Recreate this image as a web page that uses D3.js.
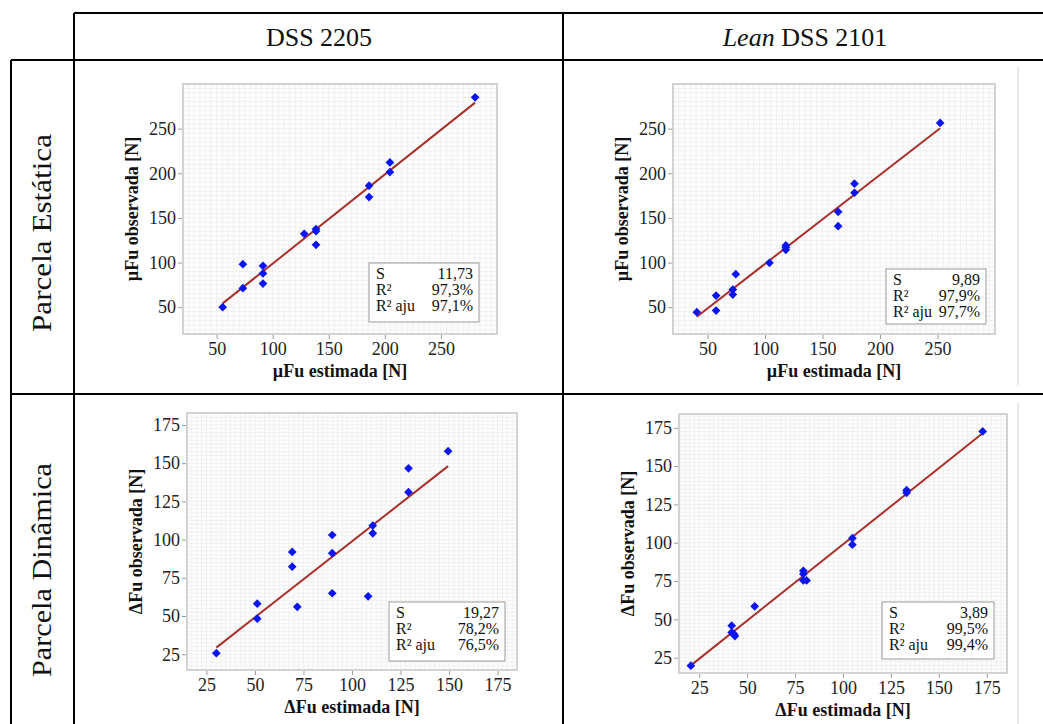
<!DOCTYPE html>
<html>
<head>
<meta charset="utf-8">
<script src="https://cdn.jsdelivr.net/npm/d3@7"></script>
<style>
  body { margin: 0; background: #fff; }
</style>
</head>
<body>
<div id="table"></div>
<script>
// column headers and row labels of the table
const colTitles = ["DSS 2205", "DSS 2101"];
const rowTitles = ["Parcela Estática", "Parcela Dinâmica"];

// tick values
const ticksStatic = [50, 100, 150, 200, 250];
const ticksDynamic = [25, 50, 75, 100, 125, 150, 175];

// DSS 2205 - parcela estatica
const est2205Static = [55.4, 73.4, 73.4, 91.3, 91.3, 91.3, 128.1, 138.6, 138.6, 138.6, 185.9, 185.9, 204.5, 204.5, 280.5];
const obs2205Static = [50.0, 98.2, 71.3, 96.4, 87.8, 76.5, 132.2, 137.5, 135.2, 119.9, 186.1, 173.4, 212.2, 201.4, 285.1];
// Lean DSS 2101 - parcela estatica
const est2101Static = [40.7, 57.5, 57.5, 72.0, 72.0, 74.6, 103.9, 118.1, 118.1, 118.1, 163.6, 163.6, 177.8, 177.8, 252.3];
const obs2101Static = [44.4, 63.1, 46.3, 69.8, 64.2, 87.0, 99.7, 119.2, 116.8, 114.3, 156.9, 140.8, 188.3, 178.2, 256.4];
// DSS 2205 - parcela dinamica
const est2205Dyn = [30.1, 51.2, 51.2, 69.2, 69.2, 71.8, 89.8, 89.8, 89.8, 108.3, 110.7, 110.7, 129.1, 129.1, 149.5];
const obs2205Dyn = [25.7, 58.1, 48.3, 91.9, 82.3, 56.0, 103.0, 91.1, 64.9, 62.9, 109.2, 104.1, 146.6, 131.0, 157.8];
// Lean DSS 2101 - parcela dinamica
const est2101Dyn = [20.6, 41.9, 41.9, 43.1, 43.6, 53.9, 79.3, 79.3, 79.3, 81.0, 104.9, 104.9, 133.2, 133.2, 172.9];
const obs2101Dyn = [19.8, 45.9, 41.5, 40.4, 39.1, 58.5, 81.7, 79.6, 75.4, 75.4, 103.0, 98.7, 134.3, 132.6, 172.6];

// summary boxes
const statNames = ["S", "R²", "R² aju"];
const stats2205Static = ["11,73", "97,3%", "97,1%"];
const stats2101Static = ["9,89", "97,9%", "97,7%"];
const stats2205Dyn = ["19,27", "78,2%", "76,5%"];
const stats2101Dyn = ["3,89", "99,5%", "99,4%"];

const svgWidth = 1043;
const svgHeight = 724;
const serif = "'Liberation Serif', 'Times New Roman', Times, serif";

let svg = d3.select("#table")
  .append("svg")
  .attr("width", svgWidth)
  .attr("height", svgHeight)
  .attr("font-family", serif)
  .style("background-color", "#fff");

// panel layout (frame in px, domains, stats box)
var panels = [
  {frame: [183, 84, 497, 334], xd: [20, 300], yd: [20, 300], ticks: ticksStatic, grid: 5,
   sym: "µ", est: est2205Static, obs: obs2205Static, stats: stats2205Static, box: [369, 263, 110, 59]},
  {frame: [673, 84, 995, 334], xd: [20, 300], yd: [20, 300], ticks: ticksStatic, grid: 5,
   sym: "µ", est: est2101Static, obs: obs2101Static, stats: stats2101Static, box: [886, 269, 100, 55]},
  {frame: [187, 413, 517, 670], xd: [15, 185], yd: [14.7, 182.8], ticks: ticksDynamic, grid: 2.5,
   sym: "Δ", est: est2205Dyn, obs: obs2205Dyn, stats: stats2205Dyn, box: [389, 602, 116, 59]},
  {frame: [679, 414, 1007, 673], xd: [14.4, 185.6], yd: [15, 184], ticks: ticksDynamic, grid: 2.5,
   sym: "Δ", est: est2101Dyn, obs: obs2101Dyn, stats: stats2101Dyn, box: [882, 602, 112, 57]}
];

// small helper so every label gets the serif face
function label(sel, size) {
  return sel.append("text").style("font-family", serif).style("font-size", size + "px").attr("fill", "#111");
}

// ---- table lines
var tbl = svg.append("g").attr("stroke", "#000").attr("stroke-width", 2);
tbl.append("line").attr("x1", 74).attr("x2", svgWidth).attr("y1", 13).attr("y2", 13);
tbl.append("line").attr("x1", 11).attr("x2", svgWidth).attr("y1", 60).attr("y2", 60);
tbl.append("line").attr("x1", 11).attr("x2", svgWidth).attr("y1", 394).attr("y2", 394);
tbl.append("line").attr("x1", 11).attr("x2", 11).attr("y1", 60).attr("y2", svgHeight);
tbl.append("line").attr("x1", 74).attr("x2", 74).attr("y1", 13).attr("y2", svgHeight);
tbl.append("line").attr("x1", 563).attr("x2", 563).attr("y1", 13).attr("y2", svgHeight);

// edges of the pasted screenshots
svg.append("line").attr("x1", 1018).attr("x2", 1018).attr("y1", 67).attr("y2", 385)
  .attr("stroke", "#d4d4d4").attr("stroke-width", 1);
svg.append("line").attr("x1", 1018).attr("x2", 1018).attr("y1", 403).attr("y2", svgHeight)
  .attr("stroke", "#d4d4d4").attr("stroke-width", 1);

// headers
label(svg, 26).attr("x", 319).attr("y", 46).attr("text-anchor", "middle").text(colTitles[0]);
var h2 = label(svg, 26).attr("x", 805).attr("y", 46).attr("text-anchor", "middle");
h2.append("tspan").style("font-style", "italic").text("Lean");
h2.append("tspan").text(" " + colTitles[1]);

// row labels (rotated)
label(svg, 27).attr("transform", "translate(51,233) rotate(-90)").attr("text-anchor", "middle")
  .attr("textLength", 198).attr("lengthAdjust", "spacingAndGlyphs").text(rowTitles[0]);
label(svg, 27).attr("transform", "translate(51,570) rotate(-90)").attr("text-anchor", "middle")
  .attr("textLength", 214).attr("lengthAdjust", "spacingAndGlyphs").text(rowTitles[1]);

// ---- scatter panels
panels.forEach(function(p) {
  var x0 = p.frame[0], y0 = p.frame[1], x1 = p.frame[2], y1 = p.frame[3];
  var xScale = d3.scaleLinear().domain(p.xd).range([x0, x1]);
  var yScale = d3.scaleLinear().domain(p.yd).range([y1, y0]);
  var g = svg.append("g");

  // background and fine grid
  g.append("rect").attr("x", x0).attr("y", y0).attr("width", x1 - x0).attr("height", y1 - y0)
    .attr("fill", "#fdfdfd");
  var gx = d3.range(Math.ceil(p.xd[0] / p.grid) * p.grid, p.xd[1], p.grid);
  var gy = d3.range(Math.ceil(p.yd[0] / p.grid) * p.grid, p.yd[1], p.grid);
  g.selectAll(".gx").data(gx).enter().append("line")
    .attr("x1", d => xScale(d)).attr("x2", d => xScale(d)).attr("y1", y0).attr("y2", y1)
    .attr("stroke", "#f0f0f0").attr("stroke-width", 1);
  g.selectAll(".gy").data(gy).enter().append("line")
    .attr("y1", d => yScale(d)).attr("y2", d => yScale(d)).attr("x1", x0).attr("x2", x1)
    .attr("stroke", "#f0f0f0").attr("stroke-width", 1);

  // frame
  g.append("rect").attr("x", x0).attr("y", y0).attr("width", x1 - x0).attr("height", y1 - y0)
    .attr("fill", "none").attr("stroke", "#d2d2d2").attr("stroke-width", 2);

  // axes
  var yAxis = g.append("g").attr("transform", "translate(" + (x0 - 1) + ",0)")
    .call(d3.axisLeft(yScale).tickValues(p.ticks).tickSize(4).tickPadding(2));
  var xAxis = g.append("g").attr("transform", "translate(0," + (y1 + 1) + ")")
    .call(d3.axisBottom(xScale).tickValues(p.ticks).tickSize(4).tickPadding(3));
  [xAxis, yAxis].forEach(function(a) {
    a.attr("font-family", serif).attr("font-size", 18);
    a.select(".domain").remove();
    a.selectAll(".tick line").attr("stroke", "#9a9a9a");
    a.selectAll(".tick text").attr("fill", "#222")
      .style("font-family", serif).style("font-size", "18px");
  });

  // axis titles
  label(g, 18).attr("x", (x0 + x1) / 2).attr("y", y1 + 43).attr("text-anchor", "middle")
    .style("font-weight", "bold").text(p.sym + "Fu estimada [N]");
  label(g, 18).attr("transform", "translate(" + (x0 - 45) + "," + ((y0 + y1) / 2) + ") rotate(-90)")
    .attr("text-anchor", "middle").style("font-weight", "bold")
    .text(p.sym + "Fu observada [N]");

  // least squares fit
  var mx = d3.mean(p.est), my = d3.mean(p.obs);
  var sxy = d3.sum(p.est, (d, i) => (d - mx) * (p.obs[i] - my));
  var sxx = d3.sum(p.est, d => (d - mx) * (d - mx));
  var b = sxy / sxx, a = my - b * mx;
  var ext = d3.extent(p.est);
  g.append("path")
    .datum(ext)
    .attr("fill", "none").attr("stroke", "#a8302c").attr("stroke-width", 2)
    .attr("d", d3.line().x(d => xScale(d)).y(d => yScale(a + b * d)));

  // points
  g.selectAll(".pt").data(p.est).enter().append("path")
    .attr("d", d3.symbol().type(d3.symbolSquare).size(38))
    .attr("transform", (d, i) => "translate(" + xScale(d) + "," + yScale(p.obs[i]) + ") rotate(45)")
    .attr("fill", "#0a14f0");

  // stats box
  var bx = p.box;
  g.append("rect").attr("x", bx[0]).attr("y", bx[1]).attr("width", bx[2]).attr("height", bx[3])
    .attr("fill", "#fff").attr("stroke", "#9a9a9a").attr("stroke-width", 1);
  statNames.forEach(function(n, i) {
    var ty = bx[1] + 16 + i * 16;
    label(g, 16).attr("x", bx[0] + 7).attr("y", ty).text(n);
    label(g, 16).attr("x", bx[0] + bx[2] - 6).attr("y", ty).attr("text-anchor", "end").text(p.stats[i]);
  });
});
</script>
</body>
</html>
